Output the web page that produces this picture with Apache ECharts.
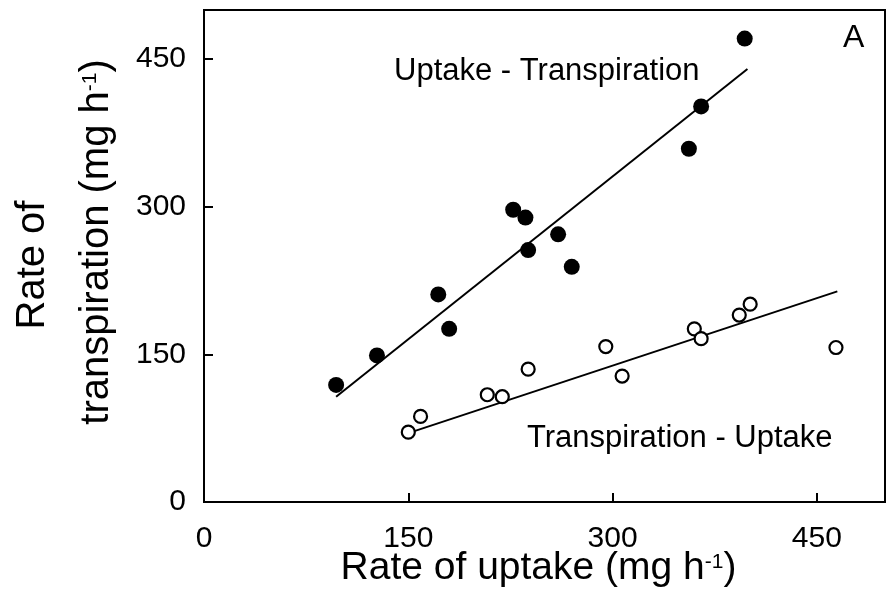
<!DOCTYPE html>
<html>
<head>
<meta charset="utf-8">
<script src="https://cdn.jsdelivr.net/npm/echarts@6/dist/echarts.min.js"></script>
<style>html,body{margin:0;padding:0;background:#fff}#c{width:888px;height:592px}</style>
</head>
<body>
<div id="c"></div>
<script>
// Uptake - Transpiration (filled circles): [uptake, transpiration]
var uptakeFilled = [97, 127, 172, 180, 227, 236, 238, 260, 270, 356, 365, 397];
var transpFilled = [119, 149, 211, 176, 297, 289, 256, 272, 239, 359, 402, 471];
// Transpiration - Uptake (open circles)
var uptakeOpen = [150, 159, 208, 219, 238, 295, 307, 360, 365, 393, 401, 464];
var transpOpen = [71, 87, 109, 107, 135, 158, 128, 176, 166, 190, 201, 157];
// regression lines (end points)
var fitFilledX = [97, 399];
var fitFilledY = [107, 440];
var fitOpenX = [150, 465];
var fitOpenY = [70, 214];
var xTicks = [0, 150, 300, 450];
var yTicks = [0, 150, 300, 450];

function pairs(xs, ys) { return xs.map(function (x, i) { return [x, ys[i]]; }); }

var FONT = "'Liberation Sans', Arial, sans-serif";
var chart = echarts.init(document.getElementById('c'), null, {renderer: 'canvas'});
var sup = {fontSize: 21, lineHeight: 21, padding: [0, 0, 13, 0], color: '#000', fontFamily: FONT};
chart.setOption({
  animation: false,
  backgroundColor: '#fff',
  textStyle: {fontFamily: FONT},
  grid: {left: 204, right: 3, top: 10, bottom: 90, show: true, borderColor: '#000', borderWidth: 2, outerBoundsMode: 'none', containLabel: false},
  xAxis: {
    type: 'value', min: 0, max: 500, interval: 150,
    axisLine: {show: true, onZero: false, lineStyle: {color: '#000', width: 2}},
    axisTick: {show: true, inside: true, length: 9, lineStyle: {color: '#000', width: 2}, customValues: xTicks},
    axisLabel: {fontSize: 30, color: '#000', margin: 22, fontFamily: FONT, customValues: xTicks},
    splitLine: {show: false},
    name: 'Rate of uptake (mg h{sup|-1}{r|)}',
    nameLocation: 'middle', nameGap: 47, nameMoveOverlap: false,
    nameTextStyle: {
      fontSize: 39, lineHeight: 39, color: '#000', fontFamily: FONT,
      rich: {sup: sup, r: {fontSize: 39, lineHeight: 39, padding: [0, 12, 0, 0], color: '#000', fontFamily: FONT}}
    }
  },
  yAxis: {
    type: 'value', min: 0, max: 500, interval: 150,
    axisLine: {show: true, onZero: false, lineStyle: {color: '#000', width: 2}},
    axisTick: {show: true, inside: true, length: 9, lineStyle: {color: '#000', width: 2}, customValues: yTicks},
    axisLabel: {fontSize: 30, color: '#000', margin: 18, fontFamily: FONT, customValues: yTicks},
    splitLine: {show: false},
    name: '{l1|Rate of}\n{l2|transpiration (mg h}{sup|-1}{t|)}',
    nameLocation: 'middle', nameGap: 75, nameRotate: 90, nameMoveOverlap: false,
    nameTextStyle: {
      fontSize: 40, lineHeight: 64, color: '#000', fontFamily: FONT,
      rich: {
        sup: sup,
        l1: {fontSize: 40, lineHeight: 64, padding: [0, 18, 0, 0], color: '#000', fontFamily: FONT},
        l2: {fontSize: 40, lineHeight: 64, padding: [0, 0, 0, 28], color: '#000', fontFamily: FONT},
        t: {fontSize: 40, lineHeight: 64, color: '#000', fontFamily: FONT}
      }
    }
  },
  series: [
    {
      type: 'line', data: pairs(fitFilledX, fitFilledY), showSymbol: false, symbol: 'none',
      lineStyle: {color: '#000', width: 2}, z: 1, silent: true
    },
    {
      type: 'line', data: pairs(fitOpenX, fitOpenY), showSymbol: false, symbol: 'none',
      lineStyle: {color: '#000', width: 2}, z: 1, silent: true
    },
    {
      type: 'scatter', data: pairs(uptakeFilled, transpFilled), symbol: 'circle', symbolSize: 16,
      itemStyle: {color: '#000', opacity: 1}, z: 3
    },
    {
      type: 'scatter', data: pairs(uptakeOpen, transpOpen), symbol: 'circle', symbolSize: 13,
      itemStyle: {color: '#fff', borderColor: '#000', borderWidth: 2.2, opacity: 1}, z: 3
    }
  ],
  graphic: [
    {type: 'text', left: 394, top: 56, style: {text: 'Uptake - Transpiration', fontSize: 31, fontFamily: FONT, fill: '#000'}},
    {type: 'text', left: 527, top: 423, style: {text: 'Transpiration - Uptake', fontSize: 31, fontFamily: FONT, fill: '#000'}},
    {type: 'text', left: 843, top: 22, style: {text: 'A', fontSize: 32, fontFamily: FONT, fill: '#000'}}
  ]
});
</script>
</body>
</html>
